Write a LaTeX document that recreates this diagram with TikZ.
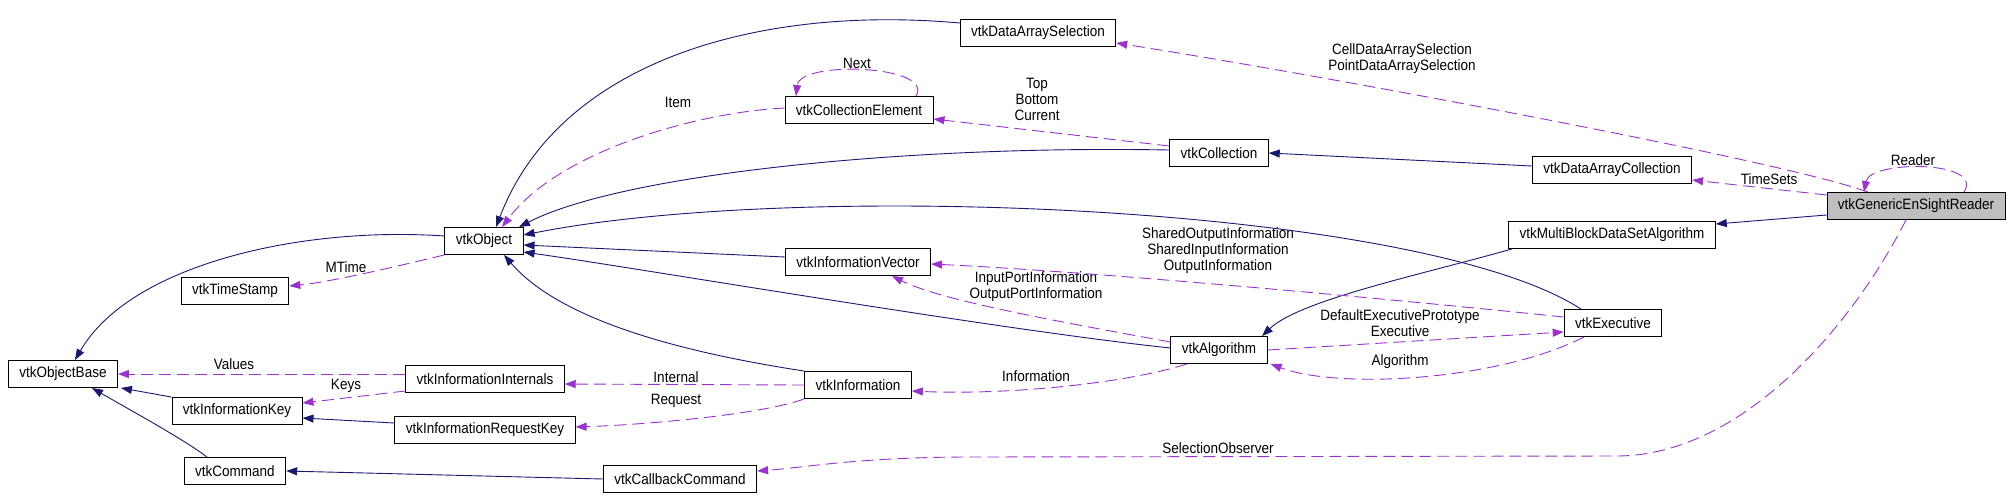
\documentclass[tikz,border=0pt]{standalone}
\usepackage{fontspec}
\setmainfont{Liberation Sans}[FakeStretch=0.9]
\usepackage{xcolor}
\usetikzlibrary{arrows.meta}
\definecolor{inhcol}{HTML}{191970}
\definecolor{usecol}{HTML}{9A32CD}
\definecolor{readergray}{HTML}{BFBFBF}

\begin{document}
\begin{tikzpicture}[
    x=1pt, y=-1pt,
    font=\fontsize{15}{16}\selectfont,
    cls/.style={draw, line width=0.9pt, minimum height=27pt, inner xsep=11pt, inner ysep=0pt},
    lbl/.style={align=center, inner sep=0pt},
    inharrow/.style={-{Triangle[length=11pt,width=8pt]}, color=inhcol, line width=0.9pt},
    usearrow/.style={-{Triangle[length=11pt,width=8pt]}, color=usecol, line width=0.9pt, dash pattern=on 12pt off 6pt}
  ]
    \useasboundingbox (0,0) rectangle (2011,499);

    \node[cls] (objbase) at (63,374) {vtkObjectBase};
    \node[cls] (object) at (484,241) {vtkObject};
    \node[cls] (timestamp) at (235,291) {vtkTimeStamp};
    \node[cls] (infointernals) at (485,379) {vtkInformationInternals};
    \node[cls] (infokey) at (237,411) {vtkInformationKey};
    \node[cls] (inforeqkey) at (485,430) {vtkInformationRequestKey};
    \node[cls] (command) at (235,471) {vtkCommand};
    \node[cls] (callback) at (680,479) {vtkCallbackCommand};
    \node[cls] (collelem) at (859,110) {vtkCollectionElement};
    \node[cls] (dasel) at (1038,33) {vtkDataArraySelection};
    \node[cls] (collection) at (1219,153) {vtkCollection};
    \node[cls] (infovec) at (858,262) {vtkInformationVector};
    \node[cls] (info) at (858,385) {vtkInformation};
    \node[cls] (algorithm) at (1219,350) {vtkAlgorithm};
    \node[cls] (dacoll) at (1612,170) {vtkDataArrayCollection};
    \node[cls] (mbdsa) at (1612,235) {vtkMultiBlockDataSetAlgorithm};
    \node[cls] (executive) at (1613,323) {vtkExecutive};
    \node[cls, fill=readergray] (reader) at (1916,206) {vtkGenericEnSightReader};

    \node[lbl] (lnext) at (857,63) {Next};
    \node[lbl] (litem) at (678,102) {Item};
    \node[lbl] (ltop) at (1037,99) {Top\\Bottom\\Current};
    \node[lbl] (lcell) at (1402,59) {CellDataArraySelection\\PointDataArraySelection};
    \node[lbl] (lreader) at (1913,160) {Reader};
    \node[lbl] (ltime) at (1769,179) {TimeSets};
    \node[lbl] (lshared) at (1218,251) {SharedOutputInformation\\SharedInputInformation\\OutputInformation};
    \node[lbl] (lport) at (1036,287) {InputPortInformation\\OutputPortInformation};
    \node[lbl] (ldefault) at (1400,323) {DefaultExecutivePrototype\\Executive};
    \node[lbl] (lalgo) at (1400,362) {Algorithm};
    \node[lbl] (linfo) at (1036,376) {Information};
    \node[lbl] (lmtime) at (346,267) {MTime};
    \node[lbl] (lvalues) at (234,364) {Values};
    \node[lbl] (lkeys) at (346,386) {Keys};
    \node[lbl] (linternal) at (676,377) {Internal};
    \node[lbl] (lrequest) at (676,401) {Request};
    \node[lbl] (lselect) at (1218,448) {SelectionObserver};

    \draw[inharrow] ([yshift=5pt]object.west) .. controls (300,226) and (130,265) .. ([xshift=12pt]objbase.north);
    \draw[inharrow] ([yshift=10pt]dasel.west) .. controls (760,5) and (560,60) .. ([xshift=12pt]object.north);
    \draw[usearrow] ([yshift=2pt]collelem.west) .. controls (700,112) and (560,150) .. ([xshift=18pt]object.north);
    \draw[usearrow] ([xshift=57pt]collelem.north) .. controls (935,65) and (800,60) .. ([xshift=-63pt]collelem.north);
    \draw[inharrow] ([yshift=3pt]collection.west) .. controls (900,145) and (620,175) .. ([xshift=35pt]object.north);
    \draw[usearrow] ([yshift=7pt]collection.west) -- ([yshift=-9pt]collelem.east);
    \draw[inharrow] ([yshift=4pt]dacoll.west) -- (collection.east);
    \draw[usearrow] ([xshift=-48pt]reader.north) .. controls (1780,160) and (1320,75) .. ([yshift=-10pt]dasel.east);
    \draw[usearrow] ([xshift=48pt]reader.north) .. controls (1985,160) and (1870,160) .. ([xshift=-52pt]reader.north);
    \draw[usearrow] ([yshift=11pt]reader.west) -- ([yshift=-10pt]dacoll.east);
    \draw[inharrow] ([yshift=-9pt]reader.west) -- ([yshift=11pt]mbdsa.east);
    \draw[usearrow] ([xshift=-10pt]reader.south) .. controls (1850,330) and (1740,455) .. (1618,456)
      -- (970,457) .. controls (860,457) and (800,468) .. ([yshift=8pt]callback.east);
    \draw[inharrow] ([xshift=-100pt]mbdsa.south) .. controls (1420,275) and (1300,300) .. ([xshift=43pt]algorithm.north);
    \draw[inharrow] ([xshift=-32pt]executive.north) .. controls (1420,205) and (800,180) .. ([yshift=6pt]object.east);
    \draw[inharrow] ([yshift=5pt]infovec.west) -- ([yshift=-4pt]object.east);
    \draw[inharrow] ([yshift=2pt]algorithm.west) .. controls (1000,330) and (650,270) .. ([yshift=-11pt]object.east);
    \draw[inharrow] (info.north west) .. controls (680,352) and (560,320) .. ([xshift=20pt]object.south);
    \draw[usearrow] ([yshift=8pt]algorithm.west) .. controls (1050,320) and (940,300) .. ([xshift=34pt]infovec.south);
    \draw[usearrow] ([yshift=6pt]executive.west) .. controls (1400,300) and (1100,272) .. ([yshift=-2pt]infovec.east);
    \draw[usearrow] (algorithm.east) -- ([yshift=-9pt]executive.west);
    \draw[usearrow] ([xshift=-29pt]executive.south) .. controls (1500,380) and (1340,390) .. ([xshift=3pt]algorithm.south east);
    \draw[usearrow] ([xshift=-32pt]algorithm.south) .. controls (1120,385) and (1000,395) .. ([yshift=-6pt]info.east);
    \draw[usearrow] (info.west) -- ([yshift=-5pt]infointernals.east);
    \draw[usearrow] (info.south west) .. controls (760,415) and (640,425) .. ([yshift=3pt]inforeqkey.east);
    \draw[usearrow] ([yshift=5pt]infointernals.west) -- (objbase.east);
    \draw[usearrow] ([yshift=-12pt]infointernals.west) -- ([yshift=8pt]infokey.east);
    \draw[inharrow] (infokey.north west) -- ([xshift=3pt]objbase.south east);
    \draw[inharrow] ([yshift=7pt]inforeqkey.west) -- ([yshift=-7pt]infokey.east);
    \draw[inharrow] ([xshift=-28pt]command.north) .. controls (185,440) and (130,410) .. ([xshift=29pt]objbase.south);
    \draw[inharrow] (callback.west) -- (command.east);
    \draw[usearrow] (object.south west) .. controls (390,268) and (330,282) .. ([yshift=5pt]timestamp.east);
  \end{tikzpicture}
\end{document}
